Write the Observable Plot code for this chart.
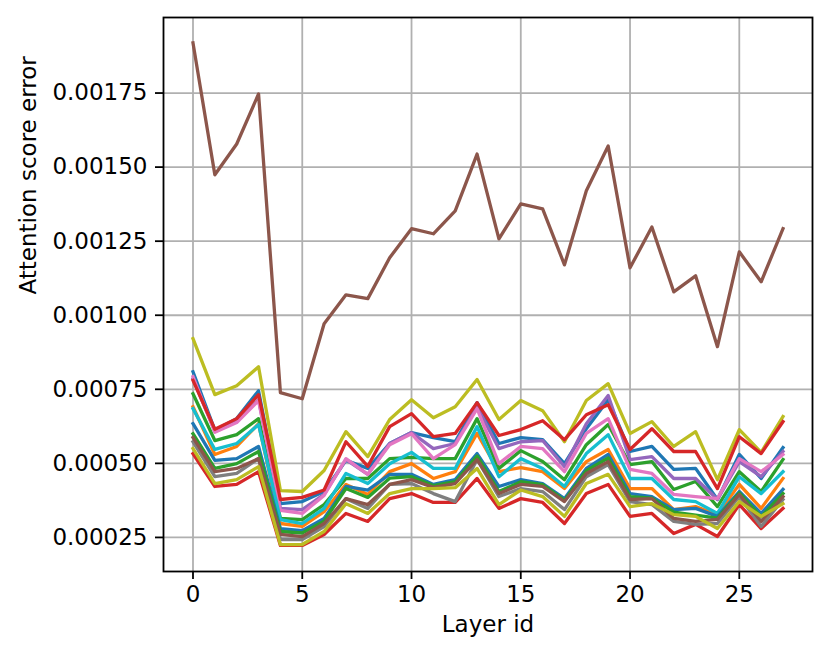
<!DOCTYPE html>
<html>
<head>
<meta charset="utf-8">
<script src="https://cdn.jsdelivr.net/npm/d3@7"></script>
<script src="https://cdn.jsdelivr.net/npm/@observablehq/plot@0.6"></script>
<style>
  html, body { margin: 0; padding: 0; background: white; }
  #chart svg { display: block; }
</style>
</head>
<body>
<div id="chart"></div>
<script>
const layers = [0,1,2,3,4,5,6,7,8,9,10,11,12,13,14,15,16,17,18,19,20,21,22,23,24,25,26,27];
const xTicks = [0, 5, 10, 15, 20, 25];
const yTicks = [0.00025, 0.0005, 0.00075, 0.001, 0.00125, 0.0015, 0.00175];
const xLabel = "Layer id";
const yLabel = "Attention score error";

const blueUpper = [0.000809,0.000612,0.000651,0.000745,0.000364,0.000371,0.000405,0.00051,0.000483,0.000567,0.000604,0.000587,0.000573,0.000705,0.000567,0.000587,0.00058,0.000499,0.000617,0.000715,0.00054,0.000557,0.00048,0.000483,0.000378,0.00053,0.000449,0.000553];
const orange = [0.000691,0.00053,0.000557,0.000634,0.000297,0.000287,0.000337,0.000429,0.000395,0.000472,0.000499,0.000449,0.000472,0.000601,0.000472,0.000486,0.000472,0.000415,0.000506,0.000547,0.000415,0.000415,0.000344,0.000354,0.000327,0.000429,0.000348,0.000449];
const green = [0.000735,0.000577,0.000597,0.000651,0.000314,0.00031,0.000361,0.000449,0.000449,0.000516,0.00052,0.000516,0.000516,0.000651,0.000483,0.000543,0.000506,0.000445,0.000563,0.000631,0.000496,0.000506,0.000412,0.000439,0.000354,0.000472,0.000405,0.000513];
const redLower = [0.000533,0.000422,0.000429,0.000472,0.000223,0.000223,0.00026,0.000331,0.000304,0.000381,0.000398,0.000368,0.000368,0.000449,0.000348,0.000381,0.000368,0.000297,0.000398,0.000429,0.000321,0.000331,0.000263,0.000294,0.000253,0.000361,0.00028,0.000348];
const purple = [0.000785,0.000608,0.000641,0.000715,0.000348,0.000344,0.000395,0.000513,0.000463,0.000567,0.000604,0.00055,0.000567,0.00069,0.00055,0.000573,0.000577,0.000489,0.000634,0.000729,0.000513,0.000523,0.000449,0.000449,0.000378,0.000506,0.000455,0.00054];
const brownTop = [0.001919,0.001474,0.001578,0.001747,0.000739,0.000718,0.000971,0.001069,0.001056,0.001194,0.001292,0.001275,0.001352,0.001544,0.001258,0.001376,0.001359,0.00117,0.00142,0.001571,0.00116,0.001298,0.001079,0.001133,0.000894,0.001214,0.001113,0.001292];
const pink = [0.000793,0.000605,0.000638,0.000712,0.000341,0.000331,0.000392,0.000516,0.000463,0.000563,0.0006,0.000516,0.000563,0.000685,0.000499,0.000557,0.00055,0.000472,0.000601,0.000651,0.00048,0.000466,0.000395,0.000388,0.000381,0.000516,0.000472,0.00053];
const gray = [0.000573,0.000455,0.000466,0.000516,0.000243,0.000243,0.000287,0.000381,0.000348,0.000429,0.000432,0.000398,0.000371,0.000513,0.000388,0.000415,0.000405,0.000344,0.000455,0.000496,0.000371,0.000361,0.000304,0.000294,0.000297,0.000388,0.000287,0.000378];
const oliveTop = [0.000921,0.000732,0.000762,0.000826,0.000408,0.000405,0.000476,0.000607,0.000523,0.000648,0.000715,0.000654,0.000691,0.000783,0.000648,0.000712,0.000678,0.000573,0.000712,0.000769,0.000601,0.000641,0.000557,0.000607,0.000445,0.000614,0.000537,0.000658];
const cyan = [0.000685,0.000547,0.000567,0.000631,0.00031,0.000297,0.000348,0.000466,0.000432,0.000499,0.000537,0.000483,0.000483,0.000624,0.000455,0.000516,0.000483,0.000422,0.000533,0.000597,0.000449,0.000449,0.000378,0.000371,0.000331,0.000455,0.000398,0.000472];
const blueLower = [0.000634,0.00051,0.000516,0.000557,0.00028,0.000273,0.000314,0.000422,0.00041,0.000463,0.000463,0.000429,0.000445,0.000533,0.000422,0.000445,0.000432,0.000381,0.000483,0.00053,0.000398,0.000388,0.000344,0.000348,0.000321,0.000405,0.000331,0.000412];
const greenLower = [0.0006,0.000483,0.000499,0.00054,0.00027,0.000265,0.000305,0.000415,0.000385,0.00045,0.000455,0.000425,0.000438,0.000525,0.000405,0.000438,0.000428,0.000375,0.000475,0.000518,0.000388,0.000383,0.000335,0.000325,0.000315,0.0004,0.00032,0.000398];
const redUpper = [0.00078,0.000615,0.000651,0.000732,0.000378,0.000385,0.00041,0.000573,0.00049,0.000624,0.000668,0.00059,0.000601,0.000705,0.000594,0.000614,0.000644,0.00058,0.000664,0.000698,0.000547,0.000617,0.00054,0.00054,0.000415,0.00059,0.000533,0.000641];
const brownLower = [0.000587,0.000472,0.000483,0.000516,0.00026,0.000253,0.000297,0.000381,0.000361,0.000429,0.000445,0.000419,0.000432,0.000513,0.000398,0.000429,0.000422,0.000371,0.000466,0.000506,0.000378,0.000381,0.000314,0.000304,0.000311,0.000395,0.000304,0.000388];
const oliveLower = [0.00055,0.000432,0.000445,0.000489,0.000226,0.000226,0.00027,0.000364,0.000331,0.000398,0.000415,0.000415,0.000418,0.000483,0.000361,0.00041,0.000388,0.000321,0.000432,0.000463,0.000354,0.000364,0.000327,0.000321,0.00028,0.000371,0.000321,0.000364];

const seriesNames = ["blueUpper","orange","green","redLower","purple","brownTop","pink","gray","oliveTop","cyan","blueLower","greenLower","redUpper","brownLower","oliveLower"];
const seriesValues = [blueUpper,orange,green,redLower,purple,brownTop,pink,gray,oliveTop,cyan,blueLower,greenLower,redUpper,brownLower,oliveLower];
const seriesColors = ["#1f77b4","#ff7f0e","#2ca02c","#d62728","#9467bd","#8c564b","#e377c2","#7f7f7f","#bcbd22","#17becf","#1f77b4","#2ca02c","#d62728","#8c564b","#bcbd22"];

const rows = [];
seriesValues.forEach((vals, i) => {
  vals.forEach((v, j) => rows.push({series: seriesNames[i], layer: layers[j], value: v, color: seriesColors[i]}));
});

const FONT = 23;
const chart = Plot.plot({
  width: 830,
  height: 659,
  marginLeft: 163,
  marginRight: 18,
  marginTop: 17,
  marginBottom: 88,
  x: {domain: [-1.35, 28.35]},
  y: {domain: [0.000135, 0.002005]},
  color: {type: "identity"},
  style: {fontFamily: "DejaVu Sans", background: "white", color: "black"},
  marks: [
    Plot.gridX(xTicks, {stroke: "#b0b0b0", strokeOpacity: 1, strokeWidth: 1.8}),
    Plot.gridY(yTicks, {stroke: "#b0b0b0", strokeOpacity: 1, strokeWidth: 1.8}),
    Plot.line(rows, {x: "layer", y: "value", z: "series", stroke: "color", strokeWidth: 3.3, strokeLinejoin: "round", strokeLinecap: "square"}),
    Plot.frame({stroke: "black", strokeWidth: 1.8}),
    Plot.axisX(xTicks, {tickSize: 8, tickPadding: 6, fontSize: FONT, strokeWidth: 1.8, label: null, tickFormat: d => String(d)}),
    Plot.axisY(yTicks, {tickSize: 8, tickPadding: 8, fontSize: FONT, strokeWidth: 1.8, label: null, tickFormat: d3.format(".5f")}),
    Plot.text([xLabel], {frameAnchor: "bottom", dy: 60, fontSize: FONT, text: d => d}),
    Plot.text([yLabel], {frameAnchor: "left", dx: -135, rotate: -90, fontSize: FONT, text: d => d})
  ]
});
document.getElementById("chart").appendChild(chart);
</script>
</body>
</html>
